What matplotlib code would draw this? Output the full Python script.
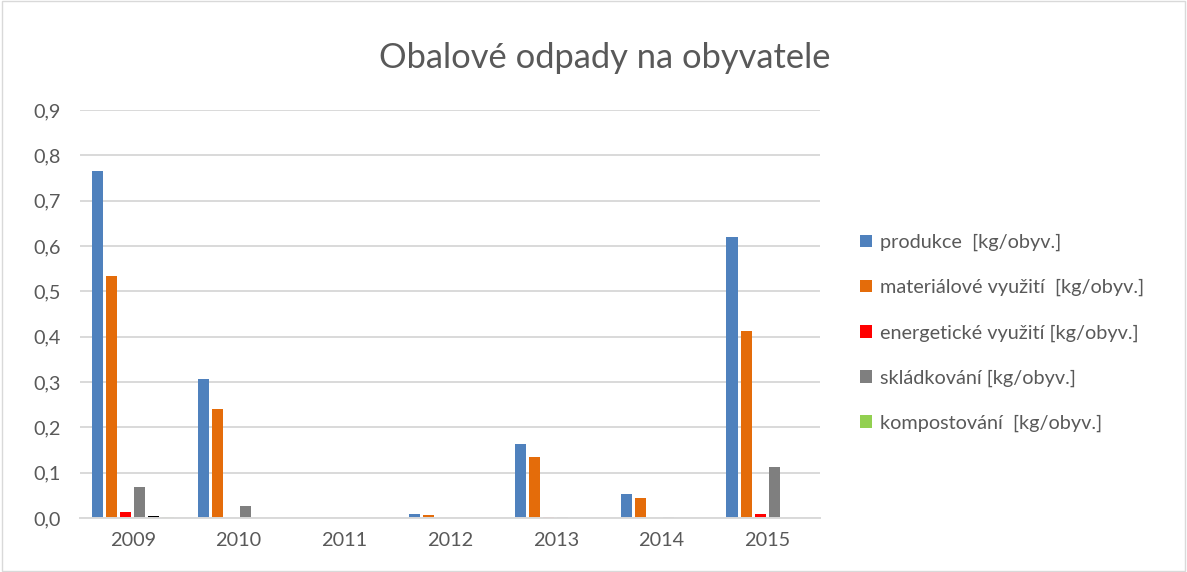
import numpy as np
import matplotlib.pyplot as plt
from matplotlib.ticker import FuncFormatter

years = ['2009', '2010', '2011', '2012', '2013', '2014', '2015']
produkce = [0.765, 0.307, 0.0, 0.009, 0.163, 0.052, 0.620]
materialove = [0.534, 0.240, 0.0, 0.006, 0.134, 0.045, 0.412]
energeticke = [0.013, 0.0, 0.0, 0.0, 0.002, 0.0, 0.009]
skladkovani = [0.068, 0.026, 0.0, 0.0, 0.002, 0.002, 0.113]
ostatni = [0.004, 0.0, 0.0, 0.0, 0.0, 0.0, 0.0]
kompostovani = [0.002, 0.0, 0.0, 0.0, 0.0, 0.0, 0.0]

series = [
    (produkce, '#4F81BD', 'produkce  [kg/obyv.]'),
    (materialove, '#E46C0A', 'materiálové využití  [kg/obyv.]'),
    (energeticke, '#FF0000', 'energetické využití [kg/obyv.]'),
    (skladkovani, '#7F7F7F', 'skládkování [kg/obyv.]'),
    (ostatni, '#000000', None),
    (kompostovani, '#92D050', 'kompostování  [kg/obyv.]'),
]

plt.rcParams['font.family'] = ['Lato', 'DejaVu Sans']

fig = plt.figure(figsize=(11.87, 5.72), dpi=100)
ax = fig.add_axes((80 / 1187, 1 - 518 / 572, 740 / 1187, 408 / 572))

x = np.arange(len(years))
step = 0.133
width = 0.105
for i, (vals, col, lab) in enumerate(series):
    ax.bar(x + (i - 2.5) * step, vals, width, color=col,
           label=lab if lab else '_nolegend_', zorder=3)

ax.set_xlim(-0.5, len(years) - 0.5)
ax.set_ylim(0, 0.9)
ax.set_yticks(np.arange(0, 0.91, 0.1))
ax.yaxis.set_major_formatter(FuncFormatter(lambda v, p: ('%.1f' % v).replace('.', ',')))
ax.set_xticks(x)
ax.set_xticklabels(years)
ax.tick_params(length=0, labelsize=14.3, colors='#595959')
ax.tick_params(axis='x', pad=10)
ax.tick_params(axis='y', pad=14)
ax.grid(axis='y', color='#D9D9D9', linewidth=1.4, zorder=0)
for s in ['top', 'right', 'left']:
    ax.spines[s].set_visible(False)
ax.spines['bottom'].set_color('#D9D9D9')
ax.spines['bottom'].set_linewidth(1.4)
ax.spines['bottom'].set_zorder(4)

fig.text(605 / 1187, 1 - 58 / 572, 'Obalové odpady na obyvatele',
         ha='center', va='center', fontsize=24.8, color='#595959')

leg = ax.legend(loc='upper left', bbox_to_anchor=(842 / 1187, 1 - 216 / 572),
                bbox_transform=fig.transFigure, frameon=False, fontsize=14.3,
                handlelength=0.6, handleheight=0.6, handletextpad=0.4,
                labelspacing=1.4)
for t in leg.get_texts():
    t.set_color('#595959')

border = plt.Rectangle((0.002, 0.002), 0.996, 0.996, transform=fig.transFigure,
                       fill=False, edgecolor='#D9D9D9', linewidth=1)
fig.patches.append(border)

fig.savefig('out.png', dpi=100)
